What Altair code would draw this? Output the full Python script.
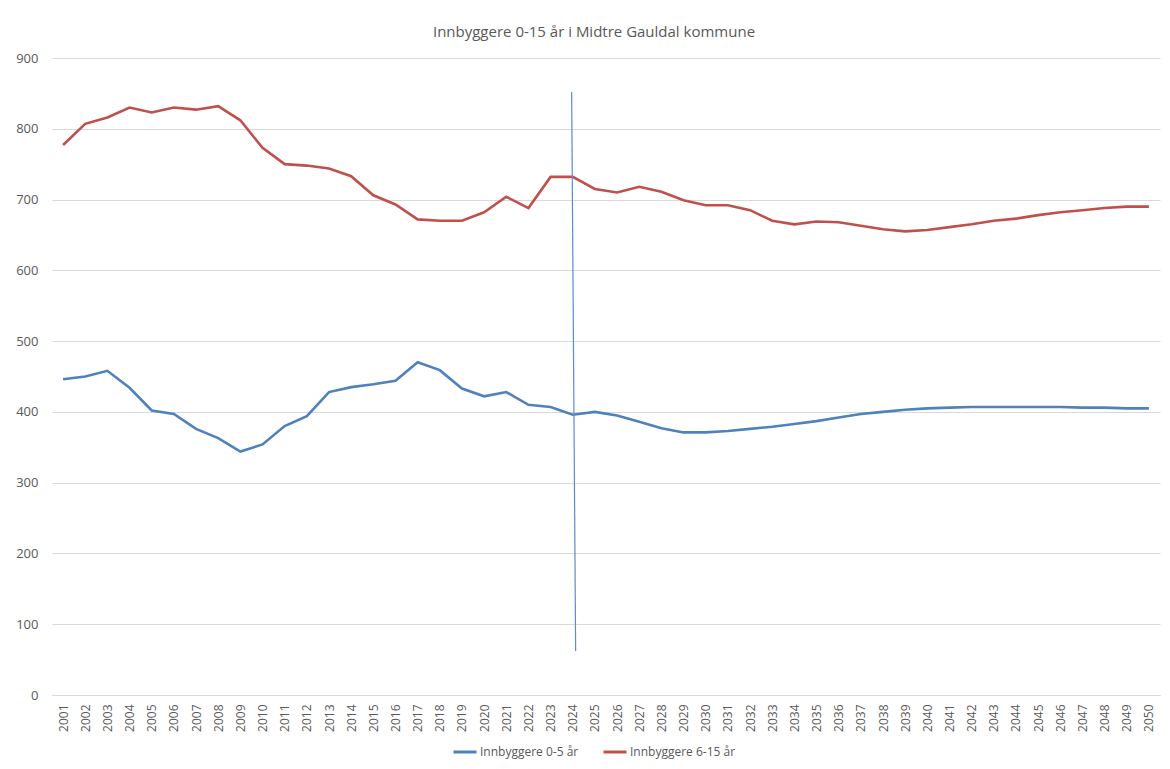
import altair as alt
import pandas as pd

years = list(range(2001, 2051))

series_names = ["Innbyggere 0-5 år", "Innbyggere 6-15 år"]

age_0_5 = [446, 450, 458, 434, 402, 397, 376, 363, 344, 354,
           380, 394, 428, 435, 439, 444, 470, 459, 433, 422,
           428, 410, 407, 396, 400, 395, 386, 377, 371, 371,
           373, 376, 379, 383, 387, 392, 397, 400, 403, 405,
           406, 407, 407, 407, 407, 407, 406, 406, 405, 405]

age_6_15 = [777, 807, 816, 830, 823, 830, 827, 832, 812, 773,
            750, 748, 744, 733, 706, 693, 672, 670, 670, 682,
            704, 688, 732, 732, 715, 710, 718, 711, 699, 692,
            692, 685, 670, 665, 669, 668, 663, 658, 655, 657,
            661, 665, 670, 673, 678, 682, 685, 688, 690, 690]

marker_x = [2023.95, 2024.13]
marker_y = [852, 62]

y_ticks = [0, 100, 200, 300, 400, 500, 600, 700, 800, 900]

colors = ["#4F81BD", "#C0504D"]

rows = []
for name, vals in zip(series_names, [age_0_5, age_6_15]):
    for yr, v in zip(years, vals):
        rows.append({"year": yr, "value": v, "series": name})
df = pd.DataFrame(rows)

marker_df = pd.DataFrame({"year": marker_x, "value": marker_y})

FONT = "Open Sans"
GRAY = "#595959"

x_scale = alt.Scale(domain=[2000.5, 2050.5], nice=False, zero=False)
y_scale = alt.Scale(domain=[0, 900], nice=False)

x_axis = alt.Axis(values=years, format="d", labelAngle=-90,
                  labelAlign="right", labelBaseline="middle",
                  labelPadding=9, ticks=False, grid=False,
                  domain=True, domainColor="#d9d9d9",
                  labelColor=GRAY, labelFont=FONT, labelFontSize=12,
                  title=None, labelOverlap=False, labelFlush=False,
                  labelBound=False)
y_axis = alt.Axis(values=y_ticks, grid=True, gridColor="#d9d9d9",
                  ticks=False, domain=False, labelPadding=14,
                  labelColor=GRAY, labelFont=FONT, labelFontSize=13,
                  title=None)

lines = alt.Chart(df).mark_line(strokeWidth=2.6).encode(
    x=alt.X("year:Q", scale=x_scale, axis=x_axis),
    y=alt.Y("value:Q", scale=y_scale, axis=y_axis),
    color=alt.Color("series:N",
                    scale=alt.Scale(domain=series_names, range=colors),
                    legend=alt.Legend(orient="none", direction="horizontal",
                                      legendX=400, legendY=681,
                                      title=None, symbolType="stroke",
                                      symbolSize=529, symbolStrokeWidth=3,
                                      labelFont=FONT, labelFontSize=12,
                                      labelColor=GRAY, labelOffset=2,
                                      columnPadding=18, labelLimit=300)),
)

marker = alt.Chart(marker_df).mark_line(strokeWidth=1.2, color="#5B8BD0").encode(
    x=alt.X("year:Q", scale=x_scale, axis=x_axis),
    y=alt.Y("value:Q", scale=y_scale, axis=y_axis),
)

chart = alt.layer(lines, marker).properties(
    width=1108,
    height=637,
    title=alt.TitleParams("Innbyggere 0-15 år i Midtre Gauldal kommune",
                          font=FONT, fontSize=15, fontWeight="normal",
                          color=GRAY, anchor="middle", dx=-12, offset=12),
    autosize=alt.AutoSizeParams(type="none"),
    padding={"left": 44, "top": 50, "right": 2, "bottom": 66},
).configure(background="white", view=alt.ViewConfig(stroke=None))

chart.save("out.html", embed_options={"renderer": "svg", "actions": False})
